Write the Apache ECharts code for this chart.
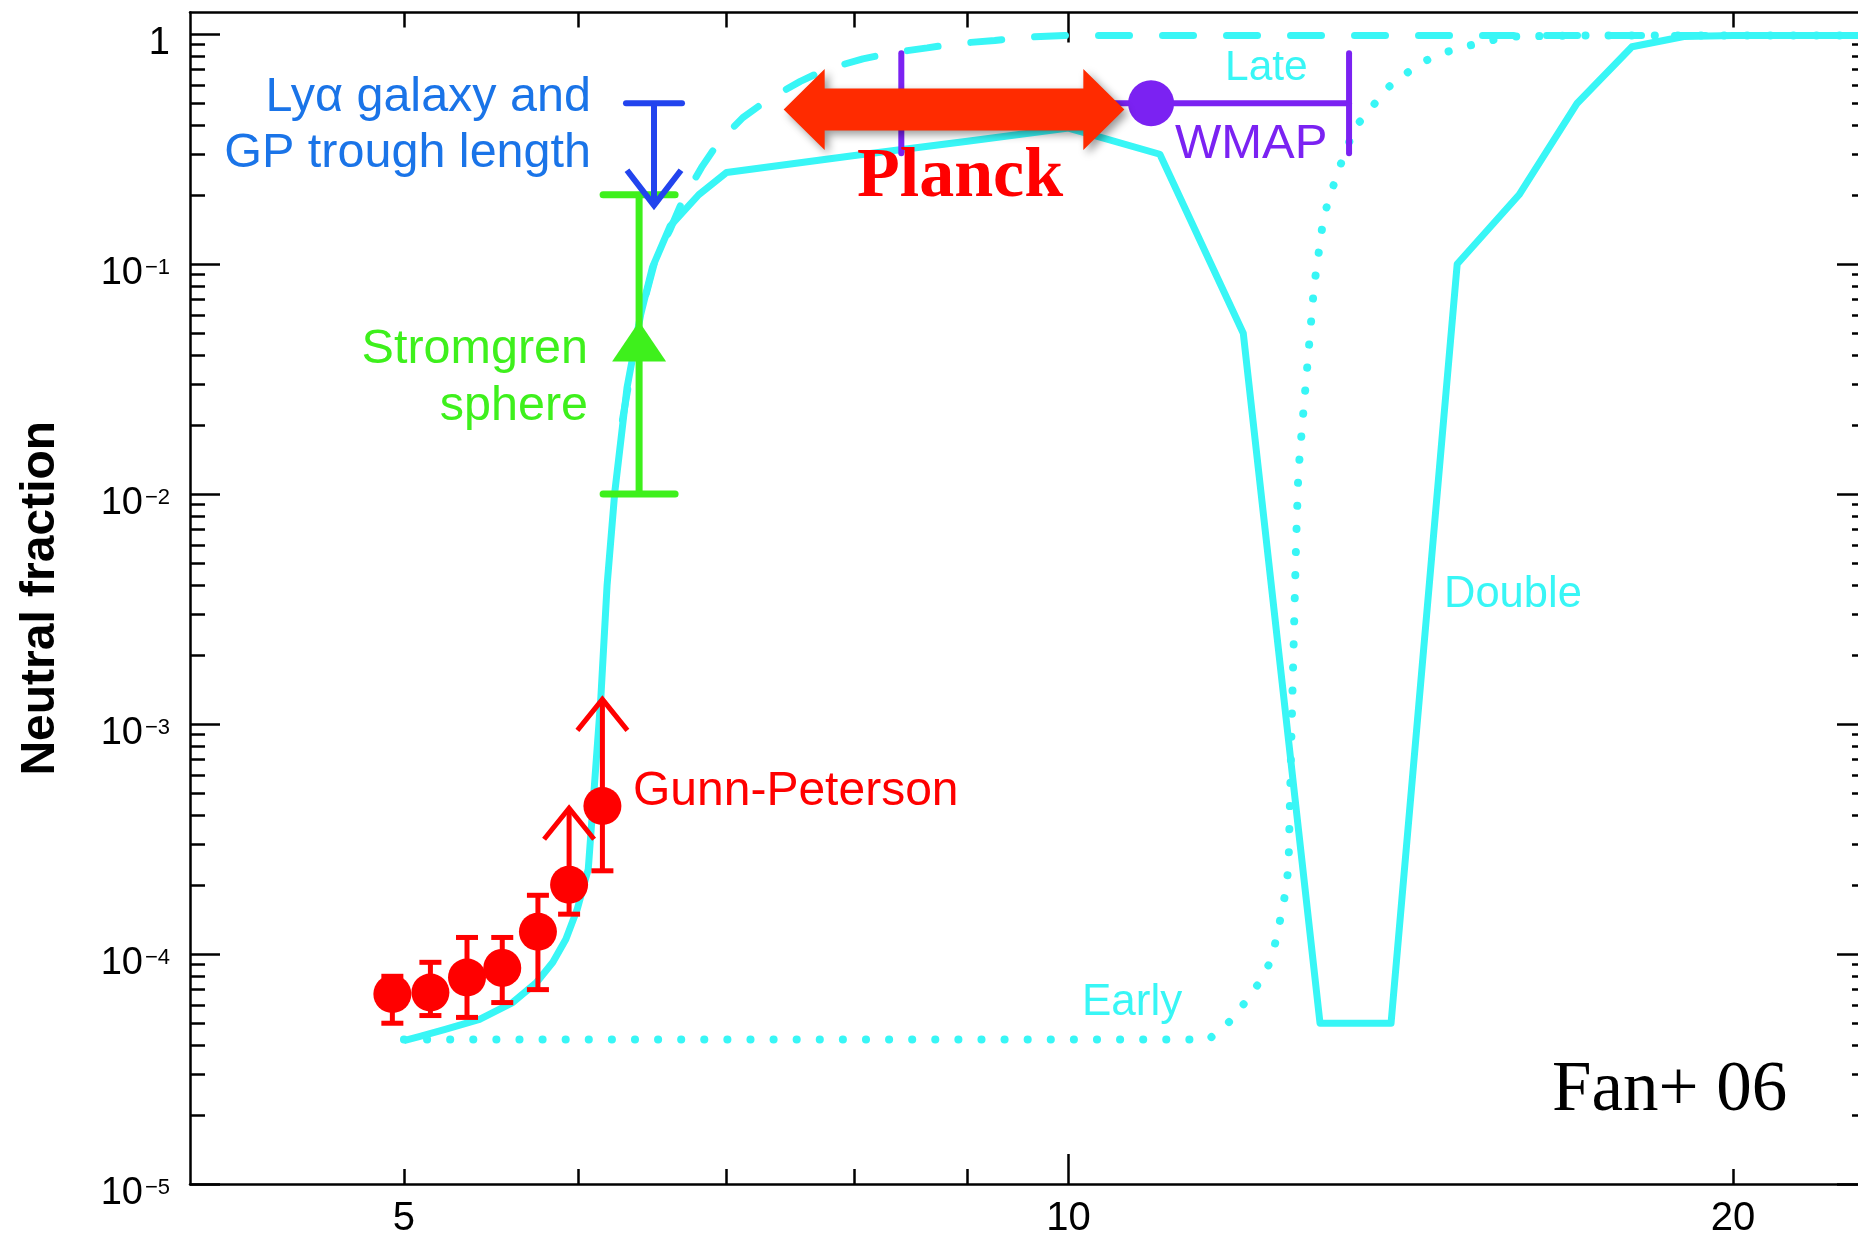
<!DOCTYPE html>
<html><head><meta charset="utf-8">
<script src="https://cdn.jsdelivr.net/npm/echarts@6/dist/echarts.min.js"></script>
<style>html,body{margin:0;padding:0;background:#fff}#c{width:1858px;height:1239px}</style>
</head><body><div id="c"></div>
<script>
// ---------- data ----------
const xLabelValues = [5, 10, 20];
const xMajorTicks = [10];
const xMinorTicks = [5, 6, 7, 8, 9, 20];
const yMajorTicks = [1e-5, 1e-4, 1e-3, 1e-2, 1e-1, 1];
const yMinorMantissas = [2, 3, 4, 5, 6, 7, 8, 9];

// "Double" model (solid)
const doubleZ = [5.00, 5.08, 5.22, 5.41, 5.60, 5.74, 5.84, 5.92, 5.99, 6.06, 6.14, 6.18, 6.23, 6.31, 6.40, 6.48, 6.60, 6.80, 7, 8, 9, 10, 11, 12, 13, 14, 15, 16, 17, 18, 19, 20, 23];
const doubleF = [4.2e-5, 4.37e-5, 4.7e-5, 5.2e-5, 6.15e-5, 7.5e-5, 9.2e-5, 1.16e-4, 1.56e-4, 2.34e-4, 1.3e-3, 4.0e-3, 1.02e-2, 2.9e-2, 6.0e-2, 9.7e-2, 0.146, 0.2, 0.25, 0.296, 0.342, 0.39, 0.30, 0.05, 5e-5, 5e-5, 0.1, 0.2, 0.5, 0.88, 0.975, 0.985, 0.985];
// "Late" model (dashed)
const lateZ = [6.28, 6.40, 6.50, 6.60, 6.69, 6.82, 6.94, 7.12, 7.31, 7.56, 7.76, 8.07, 8.33, 8.63, 8.91, 9.26, 9.51, 9.96, 11, 23];
const lateF = [0.021, 0.06, 0.105, 0.141, 0.191, 0.263, 0.337, 0.433, 0.519, 0.622, 0.70, 0.78, 0.83, 0.87, 0.91, 0.937, 0.966, 0.985, 0.985, 0.985];
// "Early" model (dotted)
const earlyZ = [5.0, 11.58, 11.64, 11.86, 12.02, 12.20, 12.34, 12.42, 12.48, 12.54, 12.58, 12.62, 12.65, 12.68, 12.71, 12.76, 12.84, 12.92, 13.05, 13.24, 13.48, 13.70, 13.92, 14.2, 14.49, 14.8, 15.12, 15.46, 15.9, 17, 23];
const earlyF = [4.25e-5, 4.25e-5, 4.47e-5, 5.19e-5, 6.15e-5, 7.5e-5, 9.2e-5, 1.16e-4, 1.46e-4, 1.85e-4, 2.4e-4, 9.5e-4, 2.4e-3, 6.2e-3, 0.0124, 0.0197, 0.0396, 0.08, 0.161, 0.25, 0.392, 0.47, 0.574, 0.667, 0.76, 0.83, 0.88, 0.93, 0.975, 0.985, 0.985];

// Gunn-Peterson measurements
const gpZ = [4.94, 5.14, 5.34, 5.54, 5.75, 5.94, 6.15];
const gpF = [6.7e-5, 6.8e-5, 7.9e-5, 8.7e-5, 1.25e-4, 2.0e-4, 4.4e-4];
const gpLow = [5.0e-5, 5.4e-5, 5.3e-5, 6.15e-5, 7.0e-5, 1.49e-4, 2.3e-4];
const gpHigh = [8.0e-5, 9.2e-5, 1.18e-4, 1.18e-4, 1.8e-4, 4.3e-4, 1.28e-3];
const gpLowerLimit = [0, 0, 0, 0, 0, 1, 1];

// Stromgren sphere
const stromgrenZ = [6.39];
const stromgrenF = [0.046];
const stromgrenLow = [0.01];
const stromgrenHigh = [0.2];

// Lya galaxy and GP trough length (upper limit)
const lyaZ = [6.49];
const lyaLimit = [0.5];
const lyaTip = [0.18];

// WMAP
const wmapZ = [10.9];
const wmapF = [0.5];
const wmapLow = [8.4];
const wmapHigh = [13.4];

// Planck range
const planckZ = [7.43, 10.6];
const planckF = [0.47];

// ---------- styling ----------
const CYAN = '#38f6f6';
const RED = '#ff0000';
const GREEN = '#3ef01c';
const BLUE = '#2244ee';
const BLUE_TXT = '#1a74e8';
const PURPLE = '#7b22f2';
const PLANCK = '#ff2b00';
const SANS = '"Liberation Sans", Arial, Helvetica, sans-serif';
const SERIF = '"Liberation Serif", "Times New Roman", serif';

const yMinorTicks = [];
for (let e = -5; e < 0; e++) yMinorMantissas.forEach(m => yMinorTicks.push(m * Math.pow(10, e)));

const zip = (a, b) => a.map((v, i) => [v, b[i]]);

function yFmt(v) {
  const e = Math.round(Math.log10(v));
  return e === 0 ? '{a|1}' : '{a|10}{b|\u2212' + (-e) + '}';
}

const X_MIN = 4, X_MAX = 23, Y_MIN = 1e-5, Y_MAX = 1.24;
const axisLineStyle = { color: '#000', width: 2.5 };
function xAx(pos, ticks, len, showLine, labels) {
  return {
    type: 'log', min: X_MIN, max: X_MAX, position: pos, gridIndex: 0,
    axisLine: { show: showLine, lineStyle: axisLineStyle },
    axisTick: { show: true, inside: true, length: len, customValues: ticks, lineStyle: { color: '#000', width: 2.5 } },
    axisLabel: labels ? { show: true, customValues: xLabelValues, formatter: v => String(Math.round(v)), fontSize: 40, fontFamily: SANS, color: '#000', margin: 15 } : { show: false },
    splitLine: { show: false }, minorTick: { show: false }, minorSplitLine: { show: false }
  };
}
function yAx(pos, ticks, len, showLine, labels) {
  const ax = {
    type: 'log', min: Y_MIN, max: Y_MAX, position: pos, gridIndex: 0,
    axisLine: { show: showLine, lineStyle: axisLineStyle },
    axisTick: { show: true, inside: true, length: len, customValues: ticks, lineStyle: { color: '#000', width: 2.5 } },
    axisLabel: { show: false },
    splitLine: { show: false }, minorTick: { show: false }, minorSplitLine: { show: false }
  };
  if (labels) {
    ax.axisLabel = {
      show: true, customValues: yMajorTicks, formatter: yFmt, margin: 20, color: '#000',
      rich: {
        a: { fontSize: 38, lineHeight: 38, fontFamily: SANS, color: '#000', padding: [20, 0, 0, 0] },
        b: { fontSize: 22, lineHeight: 22, fontFamily: SANS, color: '#000', padding: [8, 0, 0, 2] }
      }
    };
    ax.name = 'Neutral fraction';
    ax.nameLocation = 'middle';
    ax.nameGap = 125;
    ax.nameMoveOverlap = false;
    ax.nameTextStyle = { fontSize: 48, fontWeight: 'bold', fontFamily: SANS, color: '#000' };
  }
  return ax;
}

// ---------- custom renderers ----------
function gpErrRender(params, api) {
  const z = api.value(0), lo = api.value(1), hi = api.value(2), lim = api.value(3);
  const b = api.coord([z, lo]), t = api.coord([z, hi]);
  const st = { stroke: RED, lineWidth: 5, fill: 'none' };
  const ch = [
    { type: 'line', shape: { x1: b[0], y1: b[1], x2: t[0], y2: t[1] }, style: st },
    { type: 'line', shape: { x1: b[0] - 11, y1: b[1], x2: b[0] + 11, y2: b[1] }, style: st }
  ];
  if (lim) ch.push({ type: 'polyline', shape: { points: [[t[0] - 25, t[1] + 31], [t[0], t[1]], [t[0] + 25, t[1] + 31]] }, style: st });
  else ch.push({ type: 'line', shape: { x1: t[0] - 11, y1: t[1], x2: t[0] + 11, y2: t[1] }, style: st });
  return { type: 'group', children: ch };
}
function stromRender(params, api) {
  const z = api.value(0), lo = api.value(1), hi = api.value(2);
  const b = api.coord([z, lo]), t = api.coord([z, hi]);
  const st = { stroke: GREEN, lineWidth: 7, fill: 'none', lineCap: 'round' };
  return { type: 'group', children: [
    { type: 'line', shape: { x1: b[0], y1: b[1], x2: t[0], y2: t[1] }, style: { stroke: GREEN, lineWidth: 7 } },
    { type: 'line', shape: { x1: b[0] - 36, y1: b[1], x2: b[0] + 36, y2: b[1] }, style: st },
    { type: 'line', shape: { x1: t[0] - 36, y1: t[1], x2: t[0] + 36, y2: t[1] }, style: st }
  ] };
}
function lyaRender(params, api) {
  const z = api.value(0), top = api.value(1), tip = api.value(2);
  const a = api.coord([z, top]), b = api.coord([z, tip]);
  const st = { stroke: BLUE, lineWidth: 6, fill: 'none', lineCap: 'round' };
  return { type: 'group', children: [
    { type: 'line', shape: { x1: a[0] - 28, y1: a[1], x2: a[0] + 28, y2: a[1] }, style: st },
    { type: 'line', shape: { x1: a[0], y1: a[1], x2: b[0], y2: b[1] }, style: { stroke: BLUE, lineWidth: 6 } },
    { type: 'polyline', shape: { points: [[b[0] - 27, b[1] - 35], [b[0], b[1]], [b[0] + 27, b[1] - 35]] }, style: { stroke: BLUE, lineWidth: 6, fill: 'none' } }
  ] };
}
function wmapRender(params, api) {
  const lo = api.value(0), hi = api.value(1), f = api.value(2);
  const l = api.coord([lo, f]), r = api.coord([hi, f]);
  const st = { stroke: PURPLE, lineWidth: 6, fill: 'none', lineCap: 'round' };
  return { type: 'group', children: [
    { type: 'line', shape: { x1: l[0], y1: l[1], x2: r[0], y2: r[1] }, style: st },
    { type: 'line', shape: { x1: l[0], y1: l[1] - 50, x2: l[0], y2: l[1] + 50 }, style: st },
    { type: 'line', shape: { x1: r[0], y1: r[1] - 50, x2: r[0], y2: r[1] + 50 }, style: st }
  ] };
}
function planckRender(params, api) {
  const z0 = api.value(0), z1 = api.value(1), f = api.value(2);
  const L = api.coord([z0, f]), R = api.coord([z1, f]);
  const y = L[1], hl = 41, hh = 40.5, sh = 21;
  const pts = [[L[0], y], [L[0] + hl, y - hh], [L[0] + hl, y - sh], [R[0] - hl, y - sh], [R[0] - hl, y - hh], [R[0], y],
    [R[0] - hl, y + hh], [R[0] - hl, y + sh], [L[0] + hl, y + sh], [L[0] + hl, y + hh]];
  return { type: 'polygon', shape: { points: pts },
    style: { fill: PLANCK, stroke: 'none', shadowBlur: 8, shadowOffsetX: 4, shadowOffsetY: 4, shadowColor: 'rgba(0,0,0,0.4)' } };
}

function txt(text, x, y, size, color, align, extra) {
  return Object.assign({ type: 'text', x: x, y: y, z: 100,
    style: Object.assign({ text: text, fontSize: size, fontFamily: SANS, fill: color, align: align, verticalAlign: 'middle' }, extra || {}) });
}

const chart = echarts.init(document.getElementById('c'), null, { renderer: 'canvas' });
chart.setOption({
  animation: false,
  backgroundColor: '#fff',
  grid: { left: 190, top: 12.5, width: 1677, height: 1171.5, containLabel: false, outerBoundsMode: 'none' },
  xAxis: [
    xAx('bottom', xMajorTicks, 30, true, true),
    xAx('bottom', xMinorTicks, 15, false, false),
    xAx('top', xMajorTicks, 30, true, false),
    xAx('top', xMinorTicks, 15, false, false)
  ],
  yAxis: [
    yAx('left', yMajorTicks, 30, true, true),
    yAx('left', yMinorTicks, 15, false, false),
    yAx('right', yMajorTicks, 30, true, false),
    yAx('right', yMinorTicks, 15, false, false)
  ],
  series: [
    { name: 'Early', type: 'line', data: zip(earlyZ, earlyF), showSymbol: false, symbol: 'none', z: 2, silent: true,
      lineStyle: { color: CYAN, width: 8, type: [0.1, 23], cap: 'round' } },
    { name: 'Late', type: 'line', data: zip(lateZ, lateF), showSymbol: false, symbol: 'none', z: 2, silent: true,
      lineStyle: { color: CYAN, width: 7, type: [31, 33], cap: 'round' } },
    { name: 'Double', type: 'line', data: zip(doubleZ, doubleF), showSymbol: false, symbol: 'none', z: 2, silent: true,
      lineStyle: { color: CYAN, width: 7, join: 'round' } },
    { name: 'GP err', type: 'custom', renderItem: gpErrRender, z: 3, silent: true,
      data: gpZ.map((z, i) => [z, gpLow[i], gpHigh[i], gpLowerLimit[i]]) },
    { name: 'Gunn-Peterson', type: 'scatter', data: zip(gpZ, gpF), symbol: 'circle', symbolSize: 38, z: 4, silent: true,
      itemStyle: { color: RED, opacity: 1 } },
    { name: 'Stromgren err', type: 'custom', renderItem: stromRender, z: 3, silent: true,
      data: stromgrenZ.map((z, i) => [z, stromgrenLow[i], stromgrenHigh[i]]) },
    { name: 'Stromgren sphere', type: 'scatter', data: zip(stromgrenZ, stromgrenF), symbol: 'triangle', symbolSize: [54, 40], z: 4, silent: true,
      itemStyle: { color: GREEN, opacity: 1 } },
    { name: 'Lya', type: 'custom', renderItem: lyaRender, z: 4, silent: true,
      data: lyaZ.map((z, i) => [z, lyaLimit[i], lyaTip[i]]) },
    { name: 'WMAP err', type: 'custom', renderItem: wmapRender, z: 3, silent: true, encode: { x: [0, 1], y: 2 },
      data: wmapZ.map((z, i) => [wmapLow[i], wmapHigh[i], wmapF[i]]) },
    { name: 'WMAP', type: 'scatter', data: zip(wmapZ, wmapF), symbol: 'circle', symbolSize: 46, z: 4, silent: true,
      itemStyle: { color: PURPLE, opacity: 1 } },
    { name: 'Planck', type: 'custom', renderItem: planckRender, z: 6, silent: true, encode: { x: [0, 1], y: 2 },
      data: [[planckZ[0], planckZ[1], planckF[0]]] }
  ],
  graphic: [
    txt('Ly\u03b1 galaxy and', 591, 97.5, 48.5, BLUE_TXT, 'right'),
    txt('GP trough length', 591, 153.5, 48.5, BLUE_TXT, 'right'),
    txt('Stromgren', 588, 349.5, 48.5, GREEN, 'right'),
    txt('sphere', 588, 406.5, 48.5, GREEN, 'right'),
    txt('Gunn-Peterson', 633, 792, 48, RED, 'left'),
    txt('Planck', 960, 177.5, 70, RED, 'center', { fontFamily: SERIF, fontWeight: 'bold' }),
    txt('WMAP', 1175, 144.5, 49, PURPLE, 'left'),
    txt('Late', 1225, 68, 42.5, CYAN, 'left'),
    txt('Early', 1082, 1003, 44, CYAN, 'left'),
    txt('Double', 1444, 595, 43.5, CYAN, 'left'),
    txt('Fan+ 06', 1552, 1091.5, 71, '#000', 'left', { fontFamily: SERIF })
  ]
});
</script></body></html>
